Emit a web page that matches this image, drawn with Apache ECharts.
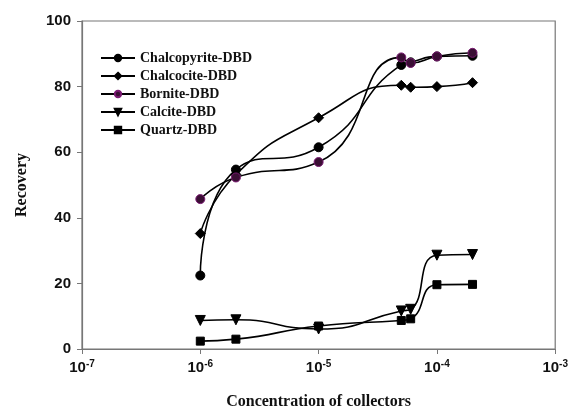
<!DOCTYPE html>
<html><head><meta charset="utf-8">
<script src="https://cdn.jsdelivr.net/npm/echarts@6/dist/echarts.min.js"></script>
<style>html,body{margin:0;padding:0;background:#fff}#c{width:571px;height:415px}</style>
</head><body><div id="c"></div>
<script>
const concentrations = [1e-6, 2e-6, 1e-5, 5e-5, 6e-5, 1e-4, 2e-4];
const seriesNames = ['Chalcopyrite-DBD', 'Chalcocite-DBD', 'Bornite-DBD', 'Calcite-DBD', 'Quartz-DBD'];
const chalcopyrite = [22.4, 54.7, 61.5, 86.6, 87.4, 89.2, 89.4];
const chalcocite = [35.2, 53.2, 70.5, 80.4, 79.8, 80.0, 81.2];
const bornite = [45.7, 52.3, 57.0, 88.9, 87.2, 89.2, 90.3];
const calcite = [8.7, 8.9, 6.1, 11.6, 12.1, 28.6, 28.8];
const quartz = [2.4, 3.0, 7.0, 8.7, 9.2, 19.6, 19.7];
const yTicks = [0, 20, 40, 60, 80, 100];

const values = [chalcopyrite, chalcocite, bornite, calcite, quartz];
const symbols = ['circle', 'diamond', 'circle', 'triangle', 'rect'];
const rotates = [0, 0, 0, 180, 0];
const sizes = [9, 10, 9, 10, 8];
const fills = ['#000', '#000', '#3b0f35', '#000', '#000'];
const borders = ['#000', '#000', '#7a1a72', '#000', '#000'];
const zs = [10, 9, 11, 8, 7];

const chart = echarts.init(document.getElementById('c'));
chart.setOption({
  animation: false,
  backgroundColor: '#fff',
  grid: {left: 82, right: 14, top: 21, bottom: 61, show: true, borderColor: '#777', borderWidth: 1.2},
  legend: {
    left: 95, top: 45, orient: 'vertical', itemWidth: 34, itemHeight: 8, itemGap: 2,
    data: seriesNames,
    textStyle: {fontFamily: 'Liberation Serif', fontWeight: 'bold', fontSize: 14, lineHeight: 16, color: '#111'}
  },
  xAxis: {
    type: 'log', logBase: 10, min: 1e-7, max: 1e-3,
    name: 'Concentration of collectors', nameLocation: 'middle', nameGap: 45,
    nameTextStyle: {fontFamily: 'Liberation Serif', fontWeight: 'bold', fontSize: 16, color: '#111'},
    axisLine: {lineStyle: {color: '#777', width: 1.2}},
    axisTick: {show: true, length: 5, lineStyle: {color: '#777'}},
    minorTick: {show: false},
    splitLine: {show: false},
    axisLabel: {
      margin: 10,
      formatter: v => '{b|10}{s|' + Math.round(Math.log10(v)) + '}',
      rich: {
        b: {fontFamily: 'Liberation Sans', fontWeight: 'bold', fontSize: 15, color: '#111'},
        s: {fontFamily: 'Liberation Sans', fontWeight: 'bold', fontSize: 10, color: '#111', padding: [0, 0, 8, 0]}
      }
    }
  },
  yAxis: {
    type: 'value', min: yTicks[0], max: yTicks[yTicks.length - 1], interval: 20,
    name: 'Recovery', nameLocation: 'middle', nameGap: 52,
    nameTextStyle: {fontFamily: 'Liberation Serif', fontWeight: 'bold', fontSize: 16, color: '#111'},
    axisLine: {show: true, lineStyle: {color: '#777', width: 1.2}},
    axisTick: {show: true, length: 5, lineStyle: {color: '#777'}},
    splitLine: {show: false},
    axisLabel: {margin: 11, fontFamily: 'Liberation Sans', fontWeight: 'bold', fontSize: 15, color: '#111'}
  },
  series: seriesNames.map((n, i) => ({
    name: n, type: 'line', smooth: 0.55,
    data: concentrations.map((c, j) => [c, values[i][j]]),
    symbol: symbols[i], symbolSize: sizes[i], symbolRotate: rotates[i],
    lineStyle: {color: '#000', width: 1.6},
    itemStyle: {color: fills[i], borderColor: borders[i], borderWidth: 1},
    z: zs[i]
  }))
});
</script></body></html>
